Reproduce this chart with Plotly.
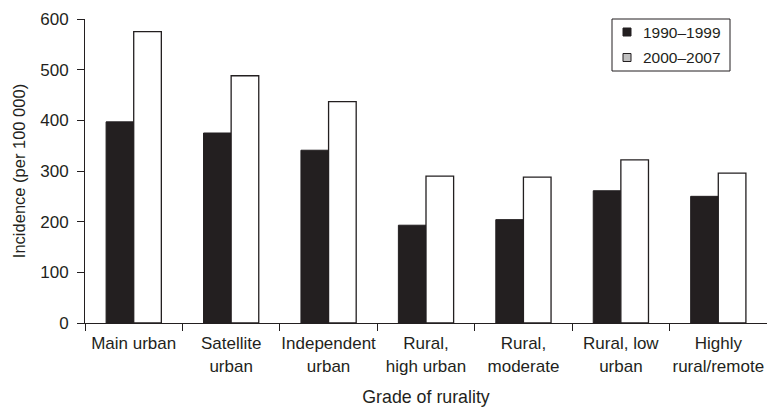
import plotly.graph_objects as go

# Incidence per 100 000 by grade of rurality, two periods
categories = [
    "Main urban",
    "Satellite<br>urban",
    "Independent<br>urban",
    "Rural,<br>high urban",
    "Rural,<br>moderate",
    "Rural, low<br>urban",
    "Highly<br>rural/remote",
]
incidence_1990_1999 = [397, 375, 341, 193, 204, 261, 250]
incidence_2000_2007 = [575, 488, 437, 290, 288, 322, 296]
y_ticks = [0, 100, 200, 300, 400, 500, 600]
series_names = ["1990–1999", "2000–2007"]

DARK = "#231f20"
KEY_GREY = "#c0c0c0"
FONT = "Liberation Sans, Arial, Helvetica, sans-serif"

W, H = 767, 408
M_L, M_R, M_T, M_B = 85, 0, 19, 85
PW, PH = W - M_L - M_R, H - M_T - M_B


def paper_x(px):
    return (px - M_L) / PW


def paper_y(py):
    return (H - M_B - py) / PH


fig = go.Figure()

fig.add_trace(go.Bar(
    x=categories, y=incidence_1990_1999, name=series_names[0],
    marker=dict(color=DARK, line=dict(color=DARK, width=1)),
))
fig.add_trace(go.Bar(
    x=categories, y=incidence_2000_2007, name=series_names[1],
    marker=dict(color="white", line=dict(color=DARK, width=1.3)),
))

# boxed key in the top-right corner: small squares, second one keyed in light grey
shapes = [dict(
    type="rect", xref="paper", yref="paper",
    x0=paper_x(612), x1=paper_x(730), y0=paper_y(71), y1=paper_y(19),
    line=dict(color=DARK, width=1), fillcolor="white", layer="above",
)]
annotations = []
for name, fill, cy in zip(series_names, [DARK, KEY_GREY], [32, 57.5]):
    shapes.append(dict(
        type="rect", xref="paper", yref="paper",
        x0=paper_x(623), x1=paper_x(631), y0=paper_y(cy + 4), y1=paper_y(cy - 4),
        line=dict(color=DARK, width=1), fillcolor=fill, layer="above",
    ))
    annotations.append(dict(
        text=name, xref="paper", yref="paper",
        x=paper_x(641), y=paper_y(cy), xanchor="left", yanchor="middle",
        showarrow=False, font=dict(family=FONT, size=15.5, color=DARK),
    ))

fig.update_layout(
    width=W, height=H,
    margin=dict(l=M_L, r=M_R, t=M_T, b=M_B),
    paper_bgcolor="white", plot_bgcolor="white",
    font=dict(family=FONT, size=17, color=DARK),
    barmode="group", bargap=0.433, bargroupgap=0,
    showlegend=False,
    shapes=shapes,
    annotations=annotations,
)

fig.update_xaxes(
    type="category", automargin=False, tickangle=0,
    showline=True, linecolor=DARK, linewidth=1,
    ticks="outside", tickson="boundaries", ticklen=7, tickcolor=DARK,
    showgrid=False, zeroline=False,
    tickfont=dict(size=17),
    ticklabelstandoff=5,
    title=dict(text="Grade of rurality", font=dict(size=17.8), standoff=16),
)
fig.update_yaxes(
    range=[0, 600], tickvals=y_ticks, automargin=False,
    showline=True, linecolor=DARK, linewidth=1,
    ticks="outside", ticklen=7, tickcolor=DARK,
    showgrid=False, zeroline=False,
    tickfont=dict(size=17),
    ticklabelstandoff=5,
    title=dict(text="Incidence (per 100 000)", font=dict(size=16.5), standoff=10),
)

fig.write_html("out.html")
